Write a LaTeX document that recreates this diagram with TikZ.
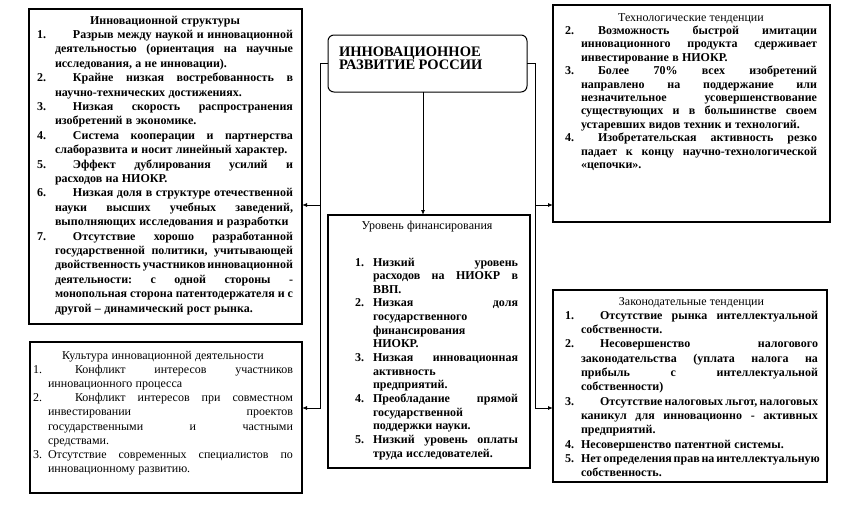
\documentclass[tikz,border=0pt]{standalone}
\usepackage{fontspec}
\setmainfont{Liberation Serif}
\usetikzlibrary{arrows.meta}
\newlength\nw \newlength\iw \newlength\rw
\newcommand\setup[2]{\setlength\nw{#1}\setlength\iw{#2}\setlength\rw{\hsize}\addtolength\rw{-\nw}}
\newcommand\jbox[2]{\hbox to #1{\frenchspacing\spaceskip=.25em plus 1fil minus .1em\relax #2}}
\newcommand\FL[2]{\noindent\makebox[\nw][l]{#1}\jbox{\rw}{\hspace*{\iw}#2}\par}
\newcommand\FE[2]{\noindent\makebox[\nw][l]{#1}\hspace*{\iw}\mbox{#2}\par}
\newcommand\FN[2]{\noindent\makebox[\nw][l]{#1}\jbox{\rw}{#2}\par}
\newcommand\FNE[2]{\noindent\makebox[\nw][l]{#1}\mbox{#2}\par}
\newcommand\JL[1]{\noindent\hspace*{\nw}\jbox{\rw}{#1}\par}
\newcommand\LL[1]{\noindent\hspace*{\nw}\mbox{#1}\par}
\newcommand\TL[1]{\noindent\makebox[\hsize][c]{#1}\par}
\begin{document}
\begin{tikzpicture}[x=1pt,y=-1pt,
  box/.style={draw, line width=1.2pt, inner sep=0pt, outer sep=0pt},
  tbox/.style={draw, line width=1pt, rounded corners=6pt, inner sep=0pt, outer sep=0pt},
  txt/.style={anchor=base west, inner sep=0pt, outer sep=0pt},
  conn/.style={line width=0.9pt, -{Latex[length=5pt,width=4pt]}}]
\fill[white] (0,0) rectangle (845,517);
\useasboundingbox (0,0) rectangle (845,517);

% boxes
\node[tbox, minimum width=199pt, minimum height=57pt] (t) at (427.5,63.5) {};
\node[box, minimum width=273pt, minimum height=315pt] (b1) at (165.5,166.5) {};
\node[box, minimum width=272pt, minimum height=151pt] (b2) at (166,417.5) {};
\node[box, minimum width=277pt, minimum height=217pt] (b3) at (691.5,113.5) {};
\node[box, minimum width=274pt, minimum height=192pt] (b4) at (690,386) {};
\node[box, minimum width=202pt, minimum height=253pt] (f) at (429,341.5) {};

% title text
\node[txt, text width=185pt] (tt) at (339,56) {\fontsize{14.5}{17}\selectfont\bfseries ИННОВАЦИОННОЕ\par РАЗВИТИЕ РОССИИ};

% box 1
\node[txt, text width=256pt] (b1t) at (37,24) {\fontsize{12}{14.4}\selectfont\bfseries\setup{18pt}{18pt}%
\TL{Инновационной структуры}%
\FL{1.}{Разрыв между наукой и  инновационной}%
\JL{деятельностью (ориентация на научные}%
\LL{исследования, а не инновации).}%
\FL{2.}{Крайне низкая востребованность в}%
\LL{научно-технических достижениях.}%
\FL{3.}{Низкая скорость распространения}%
\LL{изобретений в экономике.}%
\FL{4.}{Система кооперации и партнерства}%
\LL{слаборазвита  и носит линейный характер.}%
\FL{5.}{Эффект дублирования усилий и}%
\LL{расходов на НИОКР.}%
\FL{6.}{Низкая доля в структуре отечественной}%
\JL{науки высших учебных заведений,}%
\LL{выполняющих исследования и разработки}%
\FL{7.}{Отсутствие хорошо разработанной}%
\JL{государственной политики, учитывающей}%
\JL{двойственность участников инновационной}%
\JL{деятельности: с одной стороны -}%
\JL{монопольная сторона патентодержателя и с}%
\LL{другой – динамический рост рынка.}};

% box 2
\node[txt, text width=260pt] (b2t) at (33,359) {\fontsize{12}{14.2}\selectfont\setup{15pt}{27pt}%
\TL{Культура инновационной деятельности}%
\FL{1.}{Конфликт интересов участников}%
\LL{инновационного процесса}%
\FL{2.}{Конфликт интересов при совместном}%
\JL{инвестировании проектов}%
\JL{государственными и частными}%
\LL{средствами.}%
\FN{3.}{Отсутствие современных специалистов по}%
\LL{инновационному развитию.}};

% box 3
\node[txt, text width=252pt] (b3t) at (565,21) {\fontsize{12}{13.4}\selectfont\bfseries\setup{16pt}{17pt}%
\TL{\mdseries Технологические тенденции}%
\FL{2.}{Возможность быстрой имитации}%
\JL{инновационного продукта сдерживает}%
\LL{инвестирование в НИОКР.}%
\FL{3.}{Более 70\% всех изобретений}%
\JL{направлено на поддержание или}%
\JL{незначительное усовершенствование}%
\JL{существующих и в большинстве своем}%
\LL{устаревших видов техник и технологий.}%
\FL{4.}{Изобретательская активность резко}%
\JL{падает к концу научно-технологической}%
\LL{«цепочки».}};

% box 4
\node[txt, text width=253pt] (b4t) at (565,305) {\fontsize{12}{14.3}\selectfont\bfseries\setup{16pt}{19pt}%
\TL{\mdseries Законодательные тенденции}%
\FL{1.}{Отсутствие рынка интеллектуальной}%
\LL{собственности.}%
\FL{2.}{Несовершенство налогового}%
\JL{законодательства (уплата налога на}%
\JL{прибыль с интеллектуальной}%
\LL{собственности)}%
\FL{3.}{Отсутствие налоговых льгот, налоговых}%
\JL{каникул для инновационно - активных}%
\LL{предприятий.}%
\FNE{4.}{Несовершенство патентной системы.}%
\FN{5.}{Нет определения прав на интеллектуальную}%
\LL{собственность.}};

% financing
\node[txt, text width=163pt] (ft) at (355,229) {\fontsize{12}{13.64}\selectfont\bfseries\setup{18pt}{0pt}%
\noindent\hspace*{-9.5pt}\makebox[\hsize][c]{\mdseries Уровень финансирования}\par
\vspace{23.4pt}%
\FL{1.}{Низкий уровень}%
\JL{расходов на НИОКР в}%
\LL{ВВП.}%
\FL{2.}{Низкая доля}%
\LL{государственного}%
\LL{финансирования}%
\LL{НИОКР.}%
\FL{3.}{Низкая инновационная}%
\LL{активность}%
\LL{предприятий.}%
\FL{4.}{Преобладание прямой}%
\LL{государственной}%
\LL{поддержки науки.}%
\FL{5.}{Низкий уровень оплаты}%
\LL{труда исследователей.}};

% connectors
\coordinate (jl1) at (320,205);
\coordinate (jl2) at (320,408);
\coordinate (jr1) at (535,205);
\coordinate (jr2) at (535,408);
\coordinate (cx) at (423,150);
\draw[conn] (t.west) -| (jl1) -- (jl1 -| b1.east);
\draw[conn] (jl1) |- (jl2 -| b2.east);
\draw[conn] (t.east) -| (jr1) -- (jr1 -| b3.west);
\draw[conn] (jr1) |- (jr2 -| b4.west);
\draw[conn] (t.south -| cx) -- (f.north -| cx);
\end{tikzpicture}
\end{document}
